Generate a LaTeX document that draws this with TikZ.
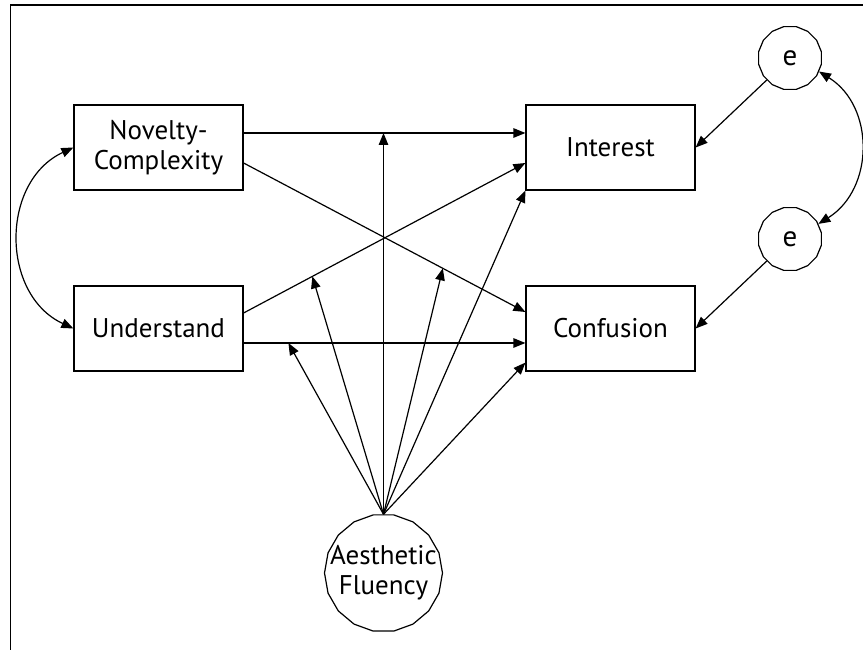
\documentclass[tikz,border=0pt]{standalone}
\usepackage{fontspec}
\setmainfont{PT Sans}
\usetikzlibrary{arrows.meta,shapes.geometric,calc}
\begin{document}
\begin{tikzpicture}[x=1pt,y=1pt,line width=1.2pt,
  box/.style={draw, minimum width=169pt, minimum height=85pt, inner sep=0pt, align=center, font=\fontsize{27}{30}\selectfont},
  errc/.style={draw, regular polygon, regular polygon sides=16, minimum size=64pt, inner sep=0pt, font=\fontsize{29}{30}\selectfont},
  lat/.style={draw, regular polygon, regular polygon sides=18, minimum size=118pt, inner sep=0pt},
  lbl/.style={align=center, inner sep=0pt, font=\fontsize{27}{30}\selectfont},
  arr/.style={-{Triangle[length=12pt,width=9.5pt]}},
  darr/.style={{Triangle[length=12pt,width=9.5pt]}-{Triangle[length=12pt,width=9.5pt]}}
]
\useasboundingbox (0,0) rectangle (863,650);
% frame
\draw (863,645) -- (10.7,645) -- (10.7,0);

% nodes
\node[box] (nc) at (158.5,502.5) {Novelty-\\Complexity};
\node[box] (u) at (158.5,321.5) {Understand};
\node[box] (int) at (610.5,502.5) {Interest};
\node[box] (conf) at (610.5,321.5) {Confusion};
\node[errc] (e1) at (790,592) {e};
\node[errc] (e2) at (790,411) {e};
\node[lat] (af) at (383.5,77) {};
\node[lbl] (aft) at (af.center) {Aesthetic\\Fluency};

% path end points
\coordinate (a1) at ($(nc.east)+(0,14.5)$);
\coordinate (b1) at ($(int.west)+(0,14.5)$);
\coordinate (a2) at ($(nc.east)+(0,-15.5)$);
\coordinate (b2) at ($(conf.west)+(0,16.5)$);
\coordinate (a3) at ($(u.east)+(0,15.5)$);
\coordinate (b3) at ($(int.west)+(0,-15.5)$);
\coordinate (a4) at ($(u.east)+(0,-14.5)$);
\coordinate (b4) at ($(conf.west)+(0,-14.5)$);

\draw[arr] (a1) -- (b1);
\draw[arr] (a2) -- (b2);
\draw[arr] (a3) -- (b3);
\draw[arr] (a4) -- (b4);

% moderator targets
\coordinate (t5) at (af.north |- a1);
\coordinate (t7) at ($(conf.south west)+(0,9)$);
\coordinate (t8) at ($(a2)!0.707!(b2)$);
\coordinate (t9) at ($(a3)!0.244!(b3)$);
\coordinate (t10) at ($(a4)!0.159!(b4)$);

\draw[arr] (af.north) -- (t5);
\draw[arr] (af.north) -- (int.south west);
\draw[arr] (af.north) -- (t7);
\draw[arr] (af.north) -- (t8);
\draw[arr] (af.north) -- (t9);
\draw[arr] (af.north) -- (t10);

% errors
\draw[arr] (e1) -- (int.east);
\draw[arr] (e2) -- (conf.east);

% covariances
\draw[darr] (nc.west) .. controls +(-73,-34) and +(-73,34) .. (u.west);
\draw[darr] (e1.-25) .. controls +(56,-35) and +(56,35) .. (e2.28);
\end{tikzpicture}
\end{document}
